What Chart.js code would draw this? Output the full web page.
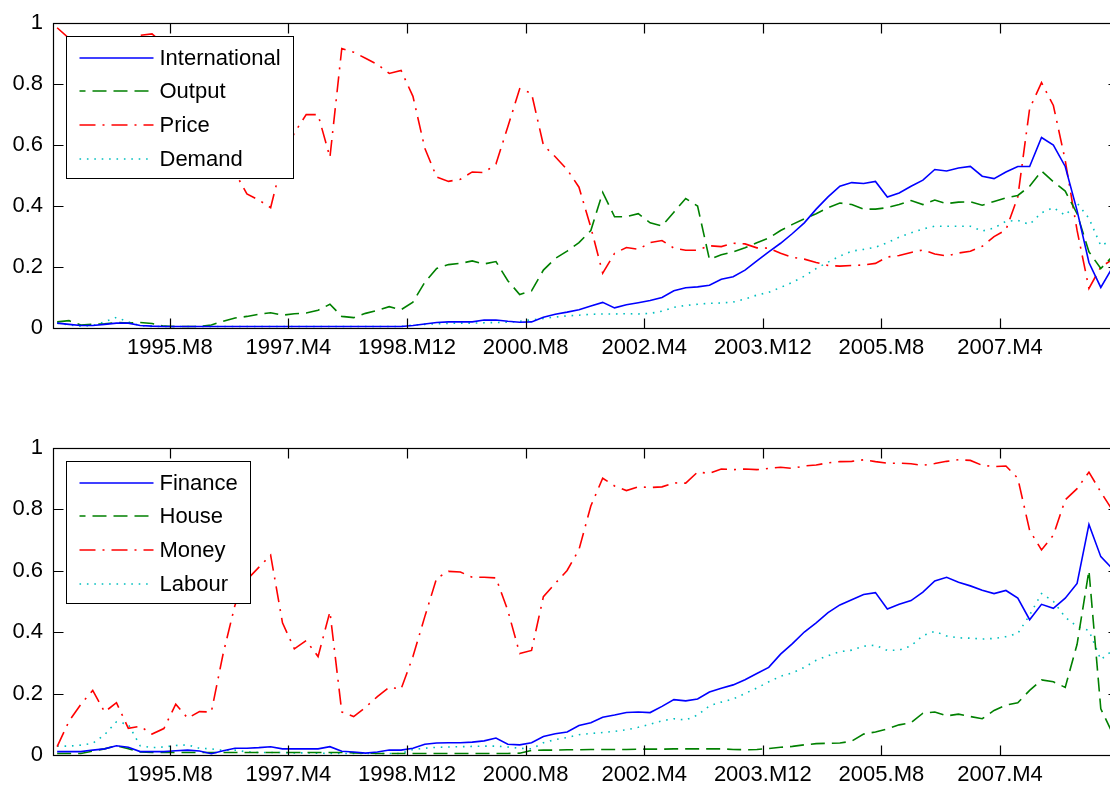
<!DOCTYPE html>
<html>
<head>
<meta charset="utf-8">
<title>Indicators 1994-2008</title>
<script src="https://cdn.jsdelivr.net/npm/chart.js@4.4.1/dist/chart.umd.min.js"></script>
<style>
  html, body { margin: 0; padding: 0; background: #fff; overflow: hidden; }
  #wrap { position: relative; width: 1110px; height: 789px; overflow: hidden; }
  canvas { position: absolute; left: 0; }
  #topChart { top: 0; }
  #bottomChart { top: 400px; }
</style>
</head>
<body>
<div id="wrap">
  <canvas id="topChart" width="1125" height="390" style="width:1125px;height:390px"></canvas>
  <canvas id="bottomChart" width="1125" height="389" style="width:1125px;height:389px"></canvas>
</div>
<script>
// monthly sample every 2 months, first sample 1994.M1
const firstYear = 1994;
const sampleStep = 2;

const xTickLabels = ['1995.M8', '1997.M4', '1998.M12', '2000.M8', '2002.M4', '2003.M12', '2005.M8', '2007.M4'];
const yTickLabels = ['0', '0.2', '0.4', '0.6', '0.8', '1'];

// top panel
const international = [
  0.016, 0.012, 0.008, 0.008, 0.012, 0.016, 0.016, 0.008, 0.006, 0.005,
  0.005, 0.005, 0.005, 0.005, 0.005, 0.005, 0.005, 0.005, 0.005, 0.005,
  0.005, 0.005, 0.005, 0.005, 0.005, 0.005, 0.005, 0.005, 0.005, 0.005,
  0.008, 0.013, 0.018, 0.02, 0.02, 0.02, 0.026, 0.026, 0.022, 0.019,
  0.02, 0.035, 0.045, 0.052, 0.06, 0.072, 0.084, 0.066, 0.076, 0.083,
  0.09, 0.10, 0.122, 0.132, 0.135, 0.14, 0.16, 0.168, 0.19, 0.22,
  0.25, 0.278, 0.31, 0.345, 0.39, 0.43, 0.465, 0.477, 0.474, 0.481,
  0.43, 0.443, 0.465, 0.485, 0.52, 0.515, 0.525, 0.53, 0.498, 0.49,
  0.512, 0.53, 0.53, 0.625, 0.60, 0.53, 0.385, 0.215, 0.133, 0.20
];
const output = [
  0.02, 0.024, 0.01, 0.012, 0.014, 0.018, 0.016, 0.018, 0.015, 0.006,
  0.005, 0.005, 0.005, 0.01, 0.022, 0.033, 0.038, 0.045, 0.05, 0.042,
  0.047, 0.049, 0.058, 0.078, 0.038, 0.034, 0.048, 0.058, 0.07, 0.06,
  0.085, 0.15, 0.195, 0.208, 0.212, 0.22, 0.21, 0.218, 0.155, 0.11,
  0.122, 0.19, 0.228, 0.252, 0.28, 0.32, 0.445, 0.365, 0.365, 0.375,
  0.345, 0.335, 0.38, 0.425, 0.40, 0.225, 0.24, 0.25, 0.263, 0.28,
  0.295, 0.32, 0.34, 0.358, 0.375, 0.395, 0.41, 0.405, 0.39, 0.39,
  0.395, 0.405, 0.418, 0.405, 0.42, 0.408, 0.413, 0.414, 0.403, 0.415,
  0.427, 0.435, 0.465, 0.515, 0.48, 0.449, 0.375, 0.25, 0.195, 0.235
];
const price = [
  0.985, 0.95, 0.93, 0.9, 0.92, 0.94, 0.95, 0.96, 0.965, 0.93,
  0.86, 0.78, 0.7, 0.62, 0.56, 0.51, 0.44, 0.42, 0.395, 0.55,
  0.64, 0.70, 0.70, 0.56, 0.917, 0.905, 0.885, 0.865, 0.835, 0.845,
  0.76, 0.59, 0.495, 0.481, 0.488, 0.512, 0.51, 0.538, 0.66, 0.785,
  0.77, 0.60, 0.562, 0.52, 0.462, 0.33, 0.18, 0.245, 0.264, 0.258,
  0.28, 0.287, 0.262, 0.255, 0.255, 0.27, 0.267, 0.278, 0.276, 0.263,
  0.262, 0.245, 0.232, 0.226, 0.215, 0.205, 0.203, 0.205, 0.207, 0.212,
  0.233, 0.238, 0.248, 0.256, 0.243, 0.236, 0.246, 0.252, 0.268, 0.30,
  0.322, 0.43, 0.72, 0.805, 0.73, 0.55, 0.32, 0.13, 0.20, 0.225
];
const demand = [
  0.016, 0.01, 0.006, 0.008, 0.02, 0.035, 0.02, 0.008, 0.005, 0.005,
  0.005, 0.005, 0.005, 0.005, 0.005, 0.005, 0.005, 0.005, 0.005, 0.005,
  0.005, 0.005, 0.005, 0.005, 0.005, 0.005, 0.005, 0.005, 0.005, 0.005,
  0.01, 0.012, 0.014, 0.015, 0.016, 0.016, 0.017, 0.018, 0.019, 0.022,
  0.027, 0.031, 0.036, 0.04, 0.042, 0.045, 0.046, 0.046, 0.047, 0.046,
  0.048, 0.055, 0.068, 0.074, 0.078, 0.081, 0.082, 0.085, 0.095, 0.108,
  0.117, 0.133, 0.15, 0.17, 0.195, 0.216, 0.236, 0.252, 0.258, 0.265,
  0.28, 0.298, 0.312, 0.325, 0.334, 0.334, 0.334, 0.334, 0.318, 0.328,
  0.35, 0.353, 0.34, 0.378, 0.395, 0.37, 0.41, 0.36, 0.27, 0.29
];

// bottom panel
const finance = [
  0.011, 0.011, 0.011, 0.016, 0.02, 0.03, 0.025, 0.011, 0.011, 0.011,
  0.014, 0.016, 0.013, 0.004, 0.014, 0.022, 0.022, 0.024, 0.027, 0.02,
  0.02, 0.02, 0.02, 0.027, 0.012, 0.01, 0.006, 0.01, 0.016, 0.016,
  0.022, 0.035, 0.039, 0.04, 0.04, 0.042, 0.046, 0.055, 0.035, 0.033,
  0.04, 0.06, 0.069, 0.075, 0.096, 0.105, 0.123, 0.13, 0.138, 0.14,
  0.138, 0.158, 0.18, 0.176, 0.182, 0.205, 0.217, 0.228, 0.245, 0.265,
  0.285, 0.328, 0.362, 0.40, 0.43, 0.463, 0.488, 0.505, 0.522, 0.528,
  0.475, 0.49, 0.502, 0.53, 0.566, 0.578, 0.562, 0.55, 0.536, 0.525,
  0.535, 0.51, 0.44, 0.49, 0.477, 0.51, 0.558, 0.75, 0.645, 0.605
];
const house = [
  0.005, 0.005, 0.005, 0.013, 0.02, 0.03, 0.02, 0.01, 0.008, 0.008,
  0.008, 0.008, 0.008, 0.008, 0.008, 0.008, 0.008, 0.008, 0.008, 0.008,
  0.008, 0.008, 0.008, 0.008, 0.008, 0.007, 0.006, 0.005, 0.005, 0.005,
  0.005, 0.005, 0.005, 0.005, 0.005, 0.005, 0.005, 0.005, 0.005, 0.006,
  0.015, 0.016, 0.016, 0.017, 0.017, 0.018, 0.018, 0.018, 0.018, 0.019,
  0.019, 0.019, 0.02, 0.02, 0.02, 0.02, 0.02, 0.018, 0.017, 0.018,
  0.021, 0.025, 0.028, 0.033, 0.037, 0.038, 0.039, 0.045, 0.068, 0.075,
  0.085, 0.098, 0.105, 0.136, 0.14, 0.127, 0.133, 0.125, 0.118, 0.145,
  0.162, 0.17, 0.21, 0.244, 0.238, 0.22, 0.36, 0.60, 0.15, 0.07
];
const money = [
  0.027, 0.11, 0.165, 0.21, 0.14, 0.17, 0.087, 0.093, 0.068, 0.086,
  0.165, 0.12, 0.141, 0.14, 0.33, 0.488, 0.57, 0.61, 0.65, 0.43,
  0.345, 0.372, 0.32, 0.466, 0.14, 0.125, 0.155, 0.19, 0.22, 0.215,
  0.32, 0.45, 0.575, 0.597, 0.595, 0.578, 0.578, 0.576, 0.47, 0.33,
  0.34, 0.515, 0.558, 0.60, 0.668, 0.81, 0.90, 0.875, 0.86, 0.872,
  0.87, 0.872, 0.885, 0.884, 0.92, 0.916, 0.93, 0.928, 0.93, 0.928,
  0.932, 0.936, 0.932, 0.94, 0.943, 0.95, 0.954, 0.955, 0.96, 0.954,
  0.949, 0.949, 0.947, 0.942, 0.948, 0.955, 0.96, 0.958, 0.942, 0.938,
  0.94, 0.90, 0.73, 0.667, 0.715, 0.83, 0.866, 0.92, 0.855, 0.795
];
const labour = [
  0.029, 0.029, 0.032, 0.038, 0.066, 0.108, 0.10, 0.03, 0.024, 0.026,
  0.031, 0.033, 0.022, 0.02, 0.015, 0.016, 0.01, 0.008, 0.008, 0.008,
  0.007, 0.007, 0.006, 0.005, 0.005, 0.005, 0.005, 0.005, 0.005, 0.005,
  0.018, 0.022, 0.025, 0.026, 0.027, 0.028, 0.029, 0.029, 0.026, 0.022,
  0.02, 0.04, 0.05, 0.057, 0.066, 0.07, 0.073, 0.077, 0.082, 0.09,
  0.10, 0.111, 0.118, 0.114, 0.13, 0.16, 0.172, 0.182, 0.20, 0.218,
  0.238, 0.256, 0.267, 0.285, 0.308, 0.323, 0.336, 0.341, 0.354, 0.357,
  0.34, 0.341, 0.355, 0.388, 0.402, 0.387, 0.381, 0.38, 0.377, 0.379,
  0.385, 0.395, 0.455, 0.525, 0.50, 0.448, 0.418, 0.405, 0.31, 0.34
];

const months = international.map((v, i) => i * sampleStep);

// "2000.M8" -> months since 1994.M1
function periodPos(label) {
  const parts = label.split('.M');
  return (parseInt(parts[0]) - firstYear) * 12 + parseInt(parts[1]) - 1;
}

const FONT = "'Liberation Sans', Arial, Helvetica, sans-serif";
const BLUE = '#0000ff', GREEN = '#008000', RED = '#ff0000', CYAN = '#00bfbf';

function line(label, values, color, dash) {
  return {
    label: label,
    data: values.map((v, i) => ({ x: months[i], y: v })),
    borderColor: color,
    borderWidth: 1.6,
    borderDash: dash,
    borderCapStyle: 'butt',
    pointRadius: 0,
    fill: false,
    tension: 0
  };
}

// matlab style box, inward ticks, boxed legend
const boxPlugin = {
  id: 'boxPlugin',
  afterDatasetsDraw(chart) {
    const ctx = chart.ctx;
    const a = chart.chartArea;
    const xs = chart.scales.x, ys = chart.scales.y;
    ctx.save();

    // legend
    ctx.font = '22px ' + FONT;
    const sets = chart.data.datasets;
    let wmax = 0;
    sets.forEach(d => { wmax = Math.max(wmax, ctx.measureText(d.label).width); });
    const lx = Math.round(a.left + 13) + 0.5;
    const ly = Math.round(a.top + 13) + 0.5;
    const lw = Math.round(93 + wmax + 13);
    const rowH = 33.7;
    const lh = Math.round(21 + rowH * (sets.length - 1) + 20);
    ctx.fillStyle = '#fff';
    ctx.fillRect(lx, ly, lw, lh);
    ctx.lineWidth = 1;
    ctx.strokeStyle = '#000';
    ctx.strokeRect(lx, ly, lw, lh);
    sets.forEach((d, i) => {
      const ry = Math.round(ly + 21 + i * rowH);
      ctx.beginPath();
      ctx.setLineDash(d.borderDash || []);
      ctx.lineDashOffset = i === 1 ? 8 : 0;
      ctx.strokeStyle = d.borderColor;
      ctx.lineWidth = d.borderWidth;
      ctx.moveTo(lx + 13, ry);
      ctx.lineTo(lx + 87, ry);
      ctx.stroke();
      ctx.setLineDash([]);
      ctx.fillStyle = '#000';
      ctx.textAlign = 'left';
      ctx.textBaseline = 'middle';
      ctx.fillText(d.label, lx + 93, ry + 1);
    });

    // axes box and ticks
    ctx.strokeStyle = '#000';
    ctx.lineWidth = 1.2;
    const L = Math.round(a.left) + 0.5, R = Math.round(a.right) + 0.5;
    const T = Math.round(a.top) + 0.5, B = Math.round(a.bottom) + 0.5;
    ctx.strokeRect(L, T, R - L, B - T);
    const tl = 10;
    ctx.beginPath();
    xs.ticks.forEach(t => {
      const px = Math.round(xs.getPixelForValue(t.value)) + 0.5;
      ctx.moveTo(px, B); ctx.lineTo(px, B - tl);
      ctx.moveTo(px, T); ctx.lineTo(px, T + tl);
    });
    ys.ticks.forEach(t => {
      const py = Math.round(ys.getPixelForValue(t.value)) + 0.5;
      ctx.moveTo(L, py); ctx.lineTo(L + tl, py);
      ctx.moveTo(R, py); ctx.lineTo(R - tl, py);
    });
    ctx.stroke();
    ctx.restore();
  }
};

function makeChart(id, datasets, padTop, xAxisHeight) {
  return new Chart(document.getElementById(id), {
    type: 'line',
    data: { datasets: datasets },
    options: {
      responsive: false,
      animation: false,
      devicePixelRatio: 1,
      layout: { padding: { top: padTop, right: 7, left: 0, bottom: 0 } },
      plugins: { legend: { display: false }, tooltip: { enabled: false } },
      scales: {
        x: {
          type: 'linear',
          bounds: 'data',
          min: -0.7,
          max: 178.9,
          grid: { display: false, drawTicks: false },
          border: { display: false },
          afterBuildTicks: s => { s.ticks = xTickLabels.map(l => ({ value: periodPos(l) })); },
          afterFit: s => { s.height = xAxisHeight; },
          ticks: {
            autoSkip: false,
            maxRotation: 0,
            padding: 7,
            color: '#000',
            font: { family: FONT, size: 22 },
            callback: (v, i) => xTickLabels[i]
          }
        },
        y: {
          type: 'linear',
          bounds: 'data',
          min: 0,
          max: 1,
          grid: { display: false, drawTicks: false },
          border: { display: false },
          afterBuildTicks: s => { s.ticks = yTickLabels.map(l => ({ value: parseFloat(l) })); },
          afterFit: s => { s.width = 53; },
          ticks: {
            padding: 10,
            color: '#000',
            font: { family: FONT, size: 22 },
            callback: (v, i) => yTickLabels[i]
          }
        }
      }
    },
    plugins: [boxPlugin]
  });
}

makeChart('topChart', [
  line('International', international, BLUE, []),
  line('Output', output, GREEN, [14, 7]),
  line('Price', price, RED, [16, 7, 2, 7]),
  line('Demand', demand, CYAN, [1.6, 5.8])
], 22, 62);

makeChart('bottomChart', [
  line('Finance', finance, BLUE, []),
  line('House', house, GREEN, [14, 7]),
  line('Money', money, RED, [16, 7, 2, 7]),
  line('Labour', labour, CYAN, [1.6, 5.8])
], 47.5, 34);
</script>
</body>
</html>
